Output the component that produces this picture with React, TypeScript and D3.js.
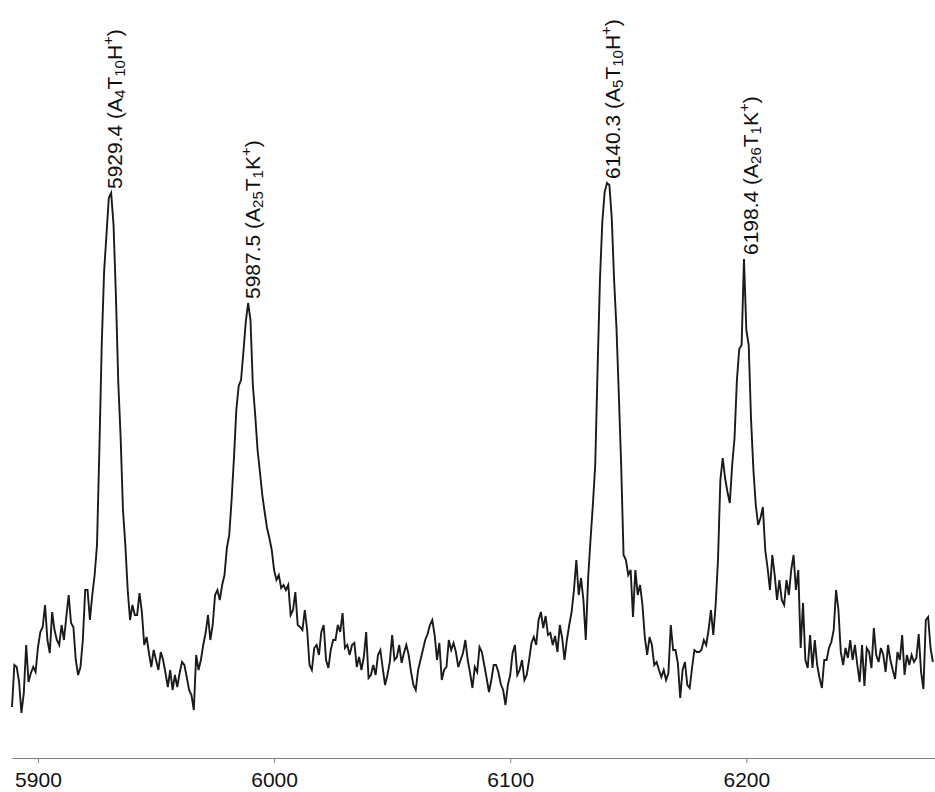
import { useEffect, useRef, useMemo } from 'react'
import * as d3 from 'd3'

// spectrum sampled every 1 Da from 5889 (intensity, arbitrary counts)
const mzStart = 5889
const mzStep = 1
const intensity = [
  51, 93, 91, 76, 45, 65, 113, 76, 85, 91,
  86, 111, 126, 131, 153, 118, 105, 146, 128, 118,
  113, 133, 118, 141, 163, 135, 131, 98, 83, 91,
  118, 168, 168, 138, 163, 183, 213, 308, 413, 486,
  523, 560, 565, 533, 463, 376, 321, 248, 213, 168,
  138, 153, 143, 143, 165, 146, 113, 121, 105, 91,
  108, 98, 88, 106, 98, 85, 71, 88, 68, 83,
  71, 85, 96, 93, 81, 68, 63, 48, 103, 88,
  98, 113, 125, 143, 118, 133, 163, 168, 158, 173,
  183, 210, 223, 258, 300, 348, 372, 378, 406, 436,
  455, 438, 373, 343, 308, 286, 263, 246, 230, 220,
  208, 188, 178, 183, 170, 173, 168, 173, 143, 148,
  166, 133, 131, 128, 148, 128, 93, 88, 110, 113,
  103, 126, 133, 98, 90, 108, 118, 118, 133, 126,
  145, 110, 113, 103, 113, 115, 91, 101, 88, 101,
  126, 80, 83, 93, 83, 103, 108, 90, 73, 83,
  96, 123, 98, 101, 113, 95, 105, 113, 103, 86,
  73, 68, 88, 98, 108, 118, 124, 133, 138, 123,
  98, 115, 78, 88, 91, 118, 108, 115, 106, 91,
  98, 105, 118, 98, 85, 70, 91, 86, 111, 106,
  93, 80, 66, 78, 93, 93, 86, 74, 68, 53,
  73, 83, 105, 113, 83, 88, 98, 78, 83, 98,
  115, 121, 113, 138, 146, 130, 142, 123, 125, 113,
  122, 106, 133, 120, 98, 118, 133, 146, 168, 198,
  163, 180, 158, 118, 180, 218, 253, 293, 389, 478,
  536, 566, 575, 573, 540, 478, 430, 363, 292, 203,
  198, 183, 188, 141, 188, 163, 173, 153, 121, 103,
  121, 113, 93, 96, 88, 81, 88, 78, 85, 133,
  108, 108, 95, 60, 88, 96, 73, 70, 90, 108,
  106, 106, 108, 118, 113, 128, 148, 123, 153, 198,
  278, 300, 280, 266, 255, 293, 320, 378, 409, 413,
  499, 428, 413, 338, 288, 253, 233, 240, 251, 208,
  190, 168, 203, 183, 158, 178, 158, 153, 178, 163,
  188, 203, 168, 188, 110, 155, 98, 90, 123, 90,
  118, 93, 80, 70, 98, 98, 110, 116, 128, 168,
  148, 106, 93, 110, 100, 118, 98, 113, 93, 76,
  113, 72, 110, 106, 90, 130, 103, 96, 110, 103,
  86, 113, 98, 88, 79, 106, 98, 123, 83, 103,
  93, 103, 96, 100, 124, 86, 69, 138, 141, 110, 96,
]

const xTicks = [5900, 6000, 6100, 6200]

// annotated peaks: m/z and composition A(n)T(m)X+
const peakMz = [5929.4, 5987.5, 6140.3, 6198.4]
const peakA = ['4', '25', '5', '26']
const peakT = ['10', '1', '10', '1']
const peakAdduct = ['H', 'K', 'H', 'K']

const W = 935
const H = 792
const FONT = '"Liberation Sans", Arial, sans-serif'

export default function App() {
  const axisRef = useRef<SVGGElement>(null)

  const x = useMemo(() => d3.scaleLinear().domain([5889, 6279.9]).range([12, 935]), [])
  const y = useMemo(() => d3.scaleLinear().domain([0, 600]).range([758, 158]), [])

  const path = useMemo(() => {
    const line = d3.line<number>()
      .x((_, i) => x(mzStart + i * mzStep))
      .y(d => y(d))
    return line(intensity) ?? ''
  }, [x, y])

  // top of each labelled peak, searched near the label m/z
  const labelPos = peakMz.map(mz => {
    let top = 0
    intensity.forEach((v, i) => {
      const m = mzStart + i * mzStep
      if (Math.abs(m - mz) <= 3 && v > top) top = v
    })
    return { px: x(mz), py: y(top) - 4 }
  })

  useEffect(() => {
    if (!axisRef.current) return
    const g = d3.select(axisRef.current)
    g.selectAll('*').remove()
    g.call(d3.axisBottom(x).tickValues(xTicks).tickFormat(d => String(d)).tickSize(5).tickSizeOuter(0).tickPadding(9))
    g.select('.domain').attr('stroke', '#808080')
    g.selectAll('.tick line').attr('stroke', '#808080')
    g.selectAll('.tick text')
      .attr('fill', '#111')
      .attr('font-size', 21)
      .attr('font-family', FONT)
  }, [x])

  return (
    <div style={{ position: 'absolute', left: 0, top: 0 }}>
      <svg width={W} height={H} style={{ display: 'block', background: '#fff' }}>
        <path d={path} fill="none" stroke="#1a1a1a" strokeWidth={1.9} />
        <g ref={axisRef} transform="translate(0,758)" />
        {peakMz.map((mz, i) => (
          <text
            key={mz}
            transform={`translate(${labelPos[i].px},${labelPos[i].py}) rotate(-90)`}
            x={0}
            y={15}
            fontSize={21}
            fontFamily={FONT}
            fill="#111"
          >
            <tspan>{`${mz.toFixed(1)} (A`}</tspan>
            <tspan dy={3} fontSize={15}>{peakA[i]}</tspan>
            <tspan dy={-3}>T</tspan>
            <tspan dy={3} fontSize={15}>{peakT[i]}</tspan>
            <tspan dy={-3}>{peakAdduct[i]}</tspan>
            <tspan dy={-9} fontSize={15}>+</tspan>
            <tspan dy={9}>)</tspan>
          </text>
        ))}
      </svg>
    </div>
  )
}
